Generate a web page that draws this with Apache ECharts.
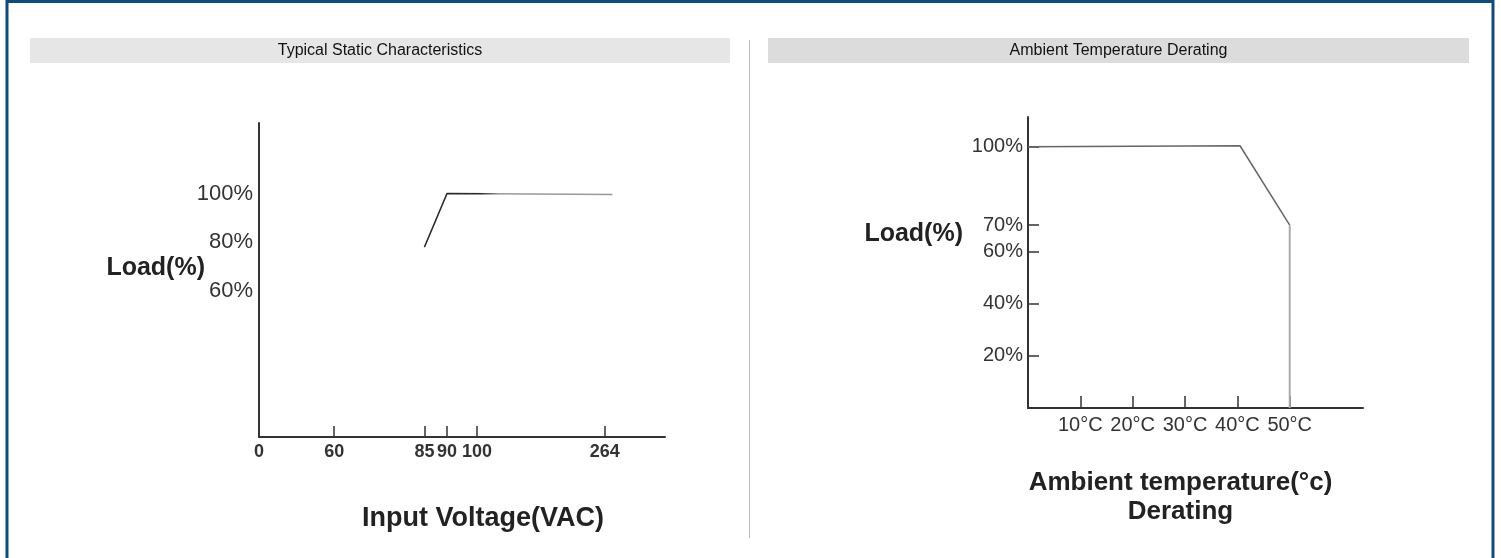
<!DOCTYPE html>
<html>
<head>
<meta charset="utf-8">
<title>Static Characteristics / Derating</title>
<script src="https://cdn.jsdelivr.net/npm/echarts@6/dist/echarts.min.js"></script>
<style>
    html, body { margin: 0; padding: 0; background: #fff; }
    #chart { width: 1501px; height: 558px; }
</style>
</head>
<body>
<div id="chart"></div>
<script>
// ---- data ----
// left panel: input voltage axis is schematic (not to scale), so it is a category axis
const voltageCats = [
    '0', '', '', '', '', '', '', '', '', '',
    '60', '', '', '', '', '', '', '', '', '',
    '', '', '85', '', '', '90', '', '', '', '100',
    '', '', '', '', '', '', '', '', '', '',
    '', '', '', '', '', '', '264', '', '', '',
    '', '', '', '', ''
];
const staticLoad = [
    null, null, null, null, null, null, null, null, null, null,
    null, null, null, null, null, null, null, null, null, null,
    null, null, 78, null, null, 100, null, null, null, null,
    null, null, null, null, null, null, null, null, null, null,
    null, null, null, null, null, null, null, 99.6, null, null,
    null, null, null, null, null
];
const staticLoadTicks = [60, 80, 100];

// right panel: ambient temperature derating
const deratingTemp = [0, 40.5, 50];
const deratingLoad = [100, 100.4, 70];
const cutoffTemp = [50, 50];
const cutoffLoad = [70, 0];
const tempTicks = [10, 20, 30, 40, 50];
const deratingLoadTicks = [20, 40, 60, 70, 100];

const FONT = '"Liberation Sans", Arial, sans-serif';
const AXIS_COLOR = '#333';
const TEXT_COLOR = '#333';

const chart = echarts.init(document.getElementById('chart'));

function zip(xs, ys) {
    return xs.map((x, i) => [x, ys[i]]);
}

// y axis titles sit horizontally beside the axis
function loadTitle(x, y) {
    return {
        type: 'text',
        x: x, y: y,
        style: {
            text: 'Load(%)',
            fontFamily: FONT, fontSize: 25, fontWeight: 'bold', fill: '#222',
            align: 'right', verticalAlign: 'middle'
        }
    };
}

const option = {
    animation: false,
    backgroundColor: '#fff',
    textStyle: { fontFamily: FONT },
    graphic: [
        // outer frame (open at the bottom)
        {
            type: 'polyline',
            shape: { points: [[7, 560], [7, 1.5], [1493, 1.5], [1493, 560]] },
            style: { stroke: '#0e4c7d', lineWidth: 3, fill: null },
            silent: true
        },
        // header bands
        {
            type: 'rect',
            shape: { x: 30, y: 38, width: 700, height: 25 },
            style: { fill: '#e6e6e6' }
        },
        {
            type: 'text',
            x: 380, y: 50.5,
            style: {
                text: 'Typical Static Characteristics',
                fontFamily: FONT, fontSize: 16, fill: '#111',
                align: 'center', verticalAlign: 'middle'
            }
        },
        {
            type: 'rect',
            shape: { x: 768, y: 38, width: 701, height: 25 },
            style: { fill: '#dcdcdc' }
        },
        {
            type: 'text',
            x: 1118.5, y: 50.5,
            style: {
                text: 'Ambient Temperature Derating',
                fontFamily: FONT, fontSize: 16, fill: '#111',
                align: 'center', verticalAlign: 'middle'
            }
        },
        // divider between panels
        {
            type: 'line',
            shape: { x1: 749.5, y1: 40, x2: 749.5, y2: 538 },
            style: { stroke: '#bbb', lineWidth: 1 }
        },
        loadTitle(205, 268),
        loadTitle(963, 234)
    ],
    grid: [
        { left: 259, top: 123, width: 406, height: 314 },
        { left: 1028, top: 117, width: 335, height: 291 }
    ],
    xAxis: [
        {
            gridIndex: 0,
            type: 'category',
            data: voltageCats,
            boundaryGap: false,
            name: 'Input Voltage(VAC)',
            nameLocation: 'middle',
            nameGap: 68,
            nameTextStyle: {
                fontFamily: FONT, fontSize: 27, fontWeight: 'bold', color: '#222',
                padding: [0, 0, 0, 42]
            },
            axisLine: { lineStyle: { color: AXIS_COLOR, width: 2 } },
            axisTick: {
                inside: true,
                length: 11,
                interval: (i, v) => v !== '' && i !== 0,
                lineStyle: { color: AXIS_COLOR, width: 1.5 }
            },
            axisLabel: {
                interval: 0,
                margin: 6,
                fontFamily: FONT, fontSize: 18, fontWeight: 'bold', color: TEXT_COLOR
            },
            splitLine: { show: false }
        },
        {
            gridIndex: 1,
            type: 'value',
            min: 0,
            max: 64,
            name: 'Ambient temperature(°c)\nDerating',
            nameLocation: 'middle',
            nameGap: 60,
            nameTextStyle: {
                fontFamily: FONT, fontSize: 26, fontWeight: 'bold', color: '#222',
                lineHeight: 29, padding: [0, 30, 0, 0]
            },
            axisLine: { lineStyle: { color: AXIS_COLOR, width: 2 } },
            axisTick: {
                inside: true,
                length: 12,
                customValues: tempTicks,
                lineStyle: { color: AXIS_COLOR, width: 1.5 }
            },
            axisLabel: {
                customValues: tempTicks,
                formatter: '{value}°C',
                margin: 7,
                fontFamily: FONT, fontSize: 20, color: TEXT_COLOR
            },
            splitLine: { show: false }
        }
    ],
    yAxis: [
        {
            gridIndex: 0,
            type: 'value',
            min: 0,
            max: 129,
            axisLine: { show: true, lineStyle: { color: AXIS_COLOR, width: 2 } },
            axisTick: {
                inside: true,
                length: 6,
                customValues: staticLoadTicks,
                lineStyle: { color: AXIS_COLOR, width: 1.5 }
            },
            axisLabel: {
                customValues: staticLoadTicks,
                formatter: '{value}%',
                margin: 6,
                fontFamily: FONT, fontSize: 22, color: TEXT_COLOR
            },
            splitLine: { show: false }
        },
        {
            gridIndex: 1,
            type: 'value',
            min: 0,
            max: 111.4,
            axisLine: { show: true, lineStyle: { color: AXIS_COLOR, width: 2 } },
            axisTick: {
                inside: true,
                length: 11,
                customValues: deratingLoadTicks,
                lineStyle: { color: AXIS_COLOR, width: 1.5 }
            },
            axisLabel: {
                customValues: deratingLoadTicks,
                formatter: '{value}%',
                margin: 5,
                fontFamily: FONT, fontSize: 20, color: TEXT_COLOR
            },
            splitLine: { show: false }
        }
    ],
    series: [
        {
            name: 'Static load',
            type: 'line',
            xAxisIndex: 0,
            yAxisIndex: 0,
            data: staticLoad,
            connectNulls: true,
            symbol: 'none',
            lineStyle: {
                width: 1.5,
                color: {
                    type: 'linear', x: 0, y: 0, x2: 1, y2: 0,
                    colorStops: [
                        { offset: 0, color: '#2a2a2a' },
                        { offset: 0.3, color: '#2a2a2a' },
                        { offset: 0.4, color: '#999' },
                        { offset: 1, color: '#999' }
                    ]
                }
            }
        },
        {
            name: 'Derating',
            type: 'line',
            xAxisIndex: 1,
            yAxisIndex: 1,
            data: zip(deratingTemp, deratingLoad),
            symbol: 'none',
            lineStyle: { width: 1.5, color: '#666' }
        },
        {
            name: 'Cutoff',
            type: 'line',
            xAxisIndex: 1,
            yAxisIndex: 1,
            data: zip(cutoffTemp, cutoffLoad),
            symbol: 'none',
            lineStyle: { width: 2, color: '#aaa' }
        }
    ]
};

chart.setOption(option);

window.addEventListener('resize', () => {
    chart && chart.resize();
});
</script>
</body>
</html>
